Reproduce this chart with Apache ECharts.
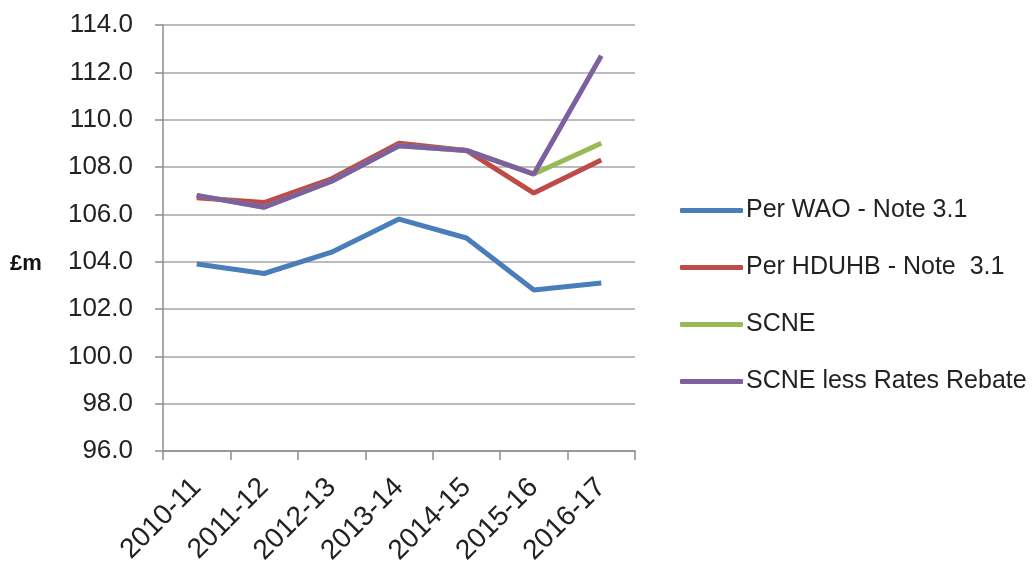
<!DOCTYPE html>
<html>
<head>
<meta charset="utf-8">
<script src="https://cdn.jsdelivr.net/npm/echarts@6/dist/echarts.min.js"></script>
<style>
html, body { margin: 0; padding: 0; background: #fff; }
#chart { width: 1035px; height: 574px; }
</style>
</head>
<body>
<div id="chart"></div>
<script>
// years on the x axis
const years = ['2010-11', '2011-12', '2012-13', '2013-14', '2014-15', '2015-16', '2016-17'];

// £m values
const perWAO = [103.9, 103.5, 104.4, 105.8, 105.0, 102.8, 103.1];
const perHDUHB = [106.7, 106.5, 107.5, 109.0, 108.7, 106.9, 108.3];
const scne = [106.8, 106.3, 107.4, 108.9, 108.7, 107.7, 109.0];
const scneLessRates = [106.8, 106.3, 107.4, 108.9, 108.7, 107.7, 112.7];

const font = 'Liberation Sans';

function line(name, data, color) {
    return {
        name: name,
        type: 'line',
        data: data,
        symbol: 'none',
        lineStyle: { width: 5, color: color },
        itemStyle: { color: color }
    };
}

let option = {
    backgroundColor: '#fff',
    animation: false,
    textStyle: { fontFamily: font },
    grid: { left: 163, right: 400, top: 25, bottom: 123 },
    legend: {
        orient: 'vertical',
        left: 675,
        top: 193,
        itemWidth: 63,
        itemHeight: 5,
        itemGap: 32,
        icon: 'roundRect',
        textStyle: { fontSize: 25, color: '#222', fontFamily: font, padding: [0, 0, 0, -2] },
        data: ['Per WAO - Note 3.1', 'Per HDUHB - Note  3.1', 'SCNE', 'SCNE less Rates Rebate']
    },
    xAxis: {
        type: 'category',
        data: years,
        boundaryGap: true,
        axisLine: { lineStyle: { color: '#8c8c8c', width: 1.5 } },
        axisTick: { show: true, length: 9, lineStyle: { color: '#8c8c8c', width: 1.5 } },
        axisLabel: { rotate: 45, fontSize: 28, color: '#222', margin: 32, interval: 0 }
    },
    yAxis: {
        type: 'value',
        min: 96,
        max: 114,
        interval: 2,
        axisLine: { show: true, lineStyle: { color: '#8c8c8c', width: 1.5 } },
        axisTick: { show: true, length: 8, lineStyle: { color: '#8c8c8c', width: 1.5 } },
        splitLine: { lineStyle: { color: '#a6a6a6', width: 1.5 } },
        axisLabel: {
            fontSize: 26, color: '#222', margin: 30,
            formatter: v => v.toFixed(1)
        }
    },
    graphic: [{
        type: 'text',
        left: 10,
        top: 253,
        style: { text: '£m', font: 'bold 22px "Liberation Sans"', fill: '#111' }
    }],
    series: [
        line('Per WAO - Note 3.1', perWAO, '#4A7EBB'),
        line('Per HDUHB - Note  3.1', perHDUHB, '#BE4B48'),
        line('SCNE', scne, '#98B954'),
        line('SCNE less Rates Rebate', scneLessRates, '#7D60A0')
    ]
};

let chart = echarts.init(document.getElementById('chart'));
chart.setOption(option);
</script>
</body>
</html>
